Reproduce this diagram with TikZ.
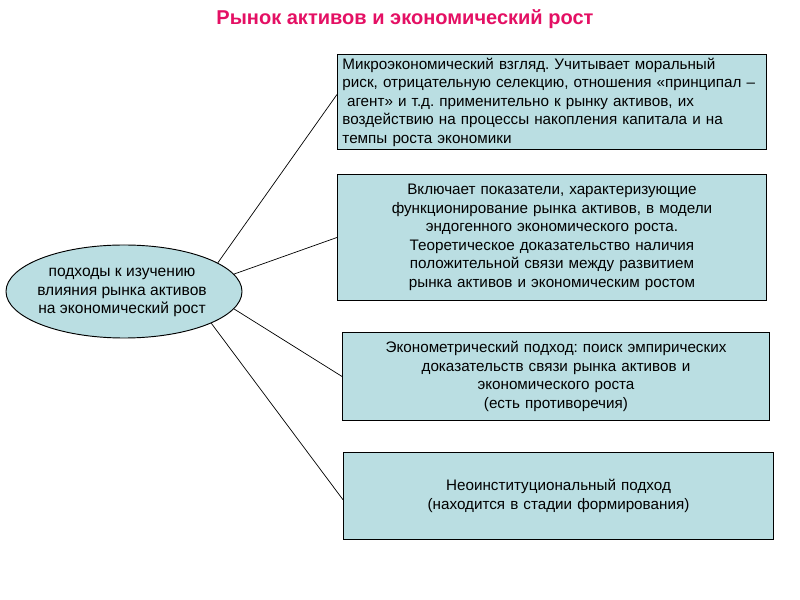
\documentclass[tikz,border=0pt]{standalone}
\usepackage{fontspec}
\setmainfont{Liberation Sans}
\usetikzlibrary{shapes.geometric,calc}
\definecolor{boxfill}{RGB}{186,222,226}
\definecolor{titlered}{RGB}{228,16,100}
\frenchspacing

\begin{document}
\begin{tikzpicture}[x=0.03cm,y=-0.03cm,
	every node/.style={font=\fontsize{13}{15.8}\selectfont},
	box/.style={draw,fill=boxfill,line width=0.8pt,anchor=north west,inner xsep=0.15cm,inner ysep=0pt},
	oval/.style={ellipse,draw,fill=boxfill,line width=0.8pt,inner sep=0pt},
	link/.style={line width=0.6pt}]
\useasboundingbox (0,0) rectangle (800,600);

\node (title) [font=\bfseries\fontsize{17.1}{20}\selectfont,text=titlered] at (405,19) {Рынок активов и экономический рост};

\node (micro) [box,text width=12.57cm,align=left,minimum height=2.85cm] at (337,54)
{
	Микроэкономический взгляд. Учитывает моральный\\
	риск, отрицательную селекцию, отношения «принципал –\\
	\hspace{0.3em}агент» и т.д. применительно к рынку активов, их\\
	воздействию на процессы накопления капитала и на\\
	темпы роста экономики
};

\node (endo) [box,text width=12.57cm,align=center,minimum height=3.78cm] at (337,174)
{
	Включает показатели, характеризующие\\
	функционирование рынка активов, в модели\\
	эндогенного экономического роста.\\
	Теоретическое доказательство наличия\\
	положительной связи между развитием\\
	рынка активов и экономическим ростом
};

\node (econ) [box,text width=12.51cm,align=center,minimum height=2.64cm] at (342,332)
{
	Эконометрический подход: поиск эмпирических\\
	доказательств связи рынка активов и\\
	экономического роста\\
	(есть противоречия)
};

\node (neo) [box,text width=12.6cm,align=center,minimum height=2.61cm] at (343,452)
{
	Неоинституциональный подход\\
	(находится в стадии формирования)
};

\node (oval) [oval,minimum width=7.08cm,minimum height=2.79cm] at (124,291.5) {};
\node (ovaltext) [align=center,font=\fontsize{13.3}{15.8}\selectfont] at (122,292.5) {подходы к изучению\\ влияния рынка активов\\ на экономический рост};

% spokes
\draw[link] (oval.17) -- (micro.178);
\draw[link] (oval.9) -- (endo.west);
\draw[link] (oval.-9) -- (econ.west);
\draw[link] (oval.-20) -- (neo.181);
\end{tikzpicture}
\end{document}
